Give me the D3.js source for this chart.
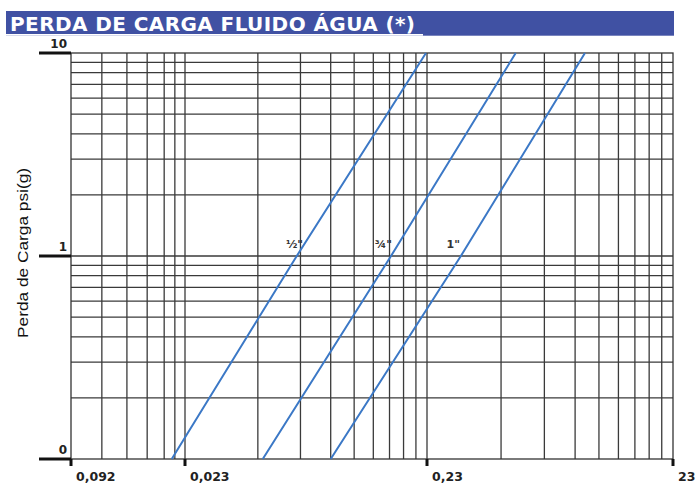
<!DOCTYPE html>
<html><head><meta charset="utf-8">
<script src="https://cdn.jsdelivr.net/npm/d3@7"></script>
<style>body{margin:0;background:#fff}svg{display:block}</style>
</head><body><svg id="c" width="696" height="485"></svg>
<script>
// ---- data ----
const title = "PERDA DE CARGA FLUIDO ÁGUA (*)";
const yAxisTitle = "Perda de Carga psi(g)";
const xTickValues = [0.00785, 0.023, 0.23, 2.3];
const xTickLabels = ["0,092", "0,023", "0,23", "23"];
const yTickValues = [0.1, 1, 10];
const yTickLabels = ["0", "1", "10"];
const xGridValues = [0.0105, 0.0133, 0.0161, 0.0189, 0.0209,
  0.046, 0.069, 0.092, 0.115, 0.138, 0.161, 0.184, 0.207,
  0.46, 0.69, 0.92, 1.15, 1.38, 1.61, 1.84, 2.07];
const yGridValues = [0.2, 0.3, 0.4, 0.5, 0.6, 0.7, 0.8, 0.9, 2, 3, 4, 5, 6, 7, 8, 9];
const seriesNames = ['½"', '¾"', '1"'];
const seriesY = [0.1, 1, 10];
const halfInchX = [0.0203, 0.0666, 0.2278];
const threeQuarterInchX = [0.0482, 0.1633, 0.5277];
const oneInchX = [0.092, 0.3158, 1.009];
const labelX = [0.0707, 0.1648, 0.3132];
const labelY = 1.1;

// ---- drawing ----
const svg = d3.select("#c");
const L = 71, R = 673, T = 53, B = 459;
const x = d3.scaleLog().domain(xTickValues).range([L, 185, 427, R]);
const y = d3.scaleLog().domain([yTickValues[0], yTickValues[2]]).range([B, T]);

// title bar
svg.append("rect").attr("x", 6).attr("y", 11).attr("width", 668).attr("height", 24.7).attr("fill", "#4051a3");
svg.append("rect").attr("x", 6).attr("y", 34).attr("width", 417).attr("height", 1.7).attr("fill", "#ffffff");
svg.append("text").attr("x", 10).attr("y", 31)
  .attr("font-family", "DejaVu Sans").attr("font-weight", "bold").attr("font-size", 20)
  .attr("fill", "#fff").attr("textLength", 405).attr("lengthAdjust", "spacing").text(title);

const grid = svg.append("g").attr("stroke", "#3a3a3a").attr("stroke-width", 1.3).attr("fill", "none");
const xLines = xGridValues.concat(xTickValues.slice(1, 3));
grid.selectAll("line.v").data(xLines).join("line")
  .attr("x1", d => x(d)).attr("x2", d => x(d)).attr("y1", T).attr("y2", B);
grid.selectAll("line.h").data(yGridValues.concat([1])).join("line")
  .attr("x1", L).attr("x2", R).attr("y1", d => y(d)).attr("y2", d => y(d));
// frame
grid.append("rect").attr("x", L).attr("y", T).attr("width", R - L).attr("height", B - T).attr("stroke", "#333");

// series lines
const series = [halfInchX, threeQuarterInchX, oneInchX];
const line = d3.line().x(d => x(d[0])).y(d => y(d[1]));
svg.append("g").selectAll("path").data(series).join("path")
  .attr("d", xs => line(xs.map((v, i) => [v, seriesY[i]])))
  .attr("fill", "none").attr("stroke", "#3b78c6").attr("stroke-width", 2);

svg.append("g").selectAll("text").data(seriesNames).join("text")
  .attr("x", (d, i) => x(labelX[i])).attr("y", y(labelY))
  .attr("text-anchor", "end").attr("font-family", "DejaVu Sans").attr("font-weight", "bold")
  .attr("font-size", 11).attr("fill", "#333").text(d => d);

// y ticks
const yt = svg.append("g");
yt.selectAll("line").data(yTickValues).join("line")
  .attr("x1", 39).attr("x2", L).attr("y1", d => y(d)).attr("y2", d => y(d))
  .attr("stroke", "#111").attr("stroke-width", 3);
yt.selectAll("text").data(yTickValues).join("text")
  .attr("x", 67).attr("y", d => y(d) - 5).attr("text-anchor", "end")
  .attr("font-family", "DejaVu Sans").attr("font-weight", "bold").attr("font-size", 12).attr("fill", "#222")
  .text((d, i) => yTickLabels[i]);

// x ticks
const xt = svg.append("g");
xt.selectAll("line").data(xTickValues).join("line")
  .attr("x1", d => x(d)).attr("x2", d => x(d)).attr("y1", B).attr("y2", 466)
  .attr("stroke", "#111").attr("stroke-width", 3);
xt.selectAll("text").data(xTickValues).join("text")
  .attr("x", d => x(d) + 5).attr("y", 481)
  .attr("font-family", "DejaVu Sans").attr("font-weight", "bold").attr("font-size", 12.5).attr("fill", "#222")
  .text((d, i) => xTickLabels[i]);

// y axis title
svg.append("text").attr("transform", "translate(28,253) rotate(-90)")
  .attr("text-anchor", "middle").attr("font-family", "Liberation Sans").attr("font-size", 15)
  .attr("fill", "#111").attr("textLength", 170).attr("lengthAdjust", "spacingAndGlyphs").text(yAxisTitle);
</script></body></html>
